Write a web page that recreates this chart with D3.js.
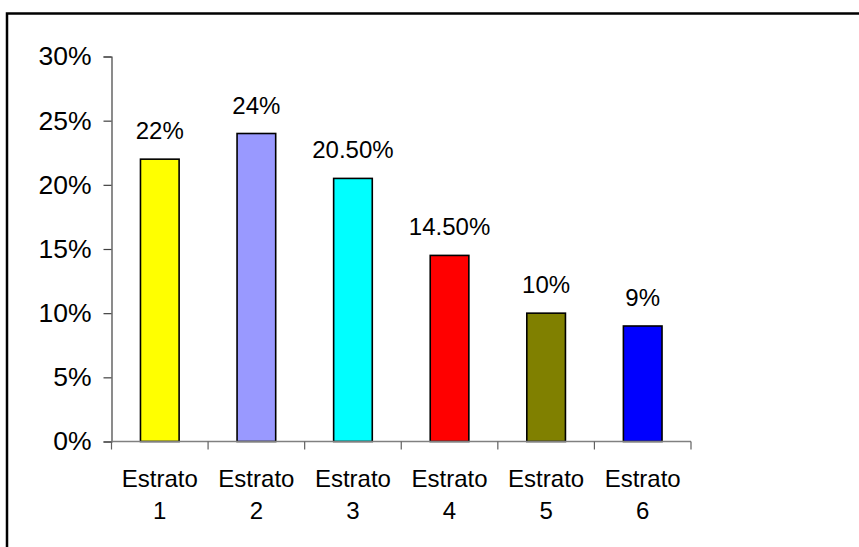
<!DOCTYPE html>
<html>
<head>
<meta charset="utf-8">
<script src="https://cdn.jsdelivr.net/npm/d3@7"></script>
<style>
  html, body { margin: 0; padding: 0; background: #fff; }
  svg { display: block; }
  text { font-family: "Liberation Sans", Arial, sans-serif; fill: #000; }
</style>
</head>
<body>
<svg id="chart" width="859" height="547"></svg>
<script>
const categories = ["Estrato 1", "Estrato 2", "Estrato 3", "Estrato 4", "Estrato 5", "Estrato 6"];
const values = [22, 24, 20.5, 14.5, 10, 9];
const valueLabels = ["22%", "24%", "20.50%", "14.50%", "10%", "9%"];
const colors = ["#FFFF00", "#9999FF", "#00FFFF", "#FF0000", "#808000", "#0000FF"];
const yTicks = [0, 5, 10, 15, 20, 25, 30];

const svg = d3.select("#chart");

// outer frame (only top and left visible in the crop)
svg.append("rect")
  .attr("x", 7).attr("y", 13.5)
  .attr("width", 900).attr("height", 600)
  .attr("fill", "none").attr("stroke", "#000").attr("stroke-width", 2.5);

const x = d3.scaleBand()
  .domain(categories)
  .range([111.5, 691])
  .paddingInner(0.6)
  .paddingOuter(0.3);

const y = d3.scaleLinear().domain([0, 30]).range([441.5, 56.5]);

const fontSize = 24;
const yFontSize = 26.5;

// y axis
const yAxis = svg.append("g").attr("transform", "translate(111.5,0)")
  .call(d3.axisLeft(y).tickValues(yTicks).tickSize(8).tickPadding(12)
    .tickFormat(d => d + "%"));
yAxis.select(".domain").attr("stroke", "#404040").attr("stroke-width", 1.2);
yAxis.selectAll(".tick line").attr("stroke", "#404040").attr("stroke-width", 1.2);
yAxis.selectAll(".tick text")
  .attr("font-size", yFontSize)
  .style("font-family", "'Liberation Sans', Arial, sans-serif")
  .attr("fill", "#000");

// bars
svg.append("g").selectAll("rect")
  .data(categories)
  .join("rect")
  .attr("x", d => x(d))
  .attr("width", x.bandwidth())
  .attr("y", (d, i) => y(values[i]))
  .attr("height", (d, i) => y(0) - y(values[i]))
  .attr("fill", (d, i) => colors[i])
  .attr("stroke", "#000")
  .attr("stroke-width", 1.6);

// x axis line and ticks at band boundaries
const x0 = x.range()[0];
const boundaries = d3.range(categories.length + 1).map(i => x0 + i * x.step());
svg.append("line")
  .attr("x1", boundaries[0]).attr("x2", boundaries[boundaries.length - 1])
  .attr("y1", y(0)).attr("y2", y(0))
  .attr("stroke", "#808080").attr("stroke-width", 1.5);
svg.append("g").selectAll("line")
  .data(boundaries)
  .join("line")
  .attr("x1", d => d).attr("x2", d => d)
  .attr("y1", y(0)).attr("y2", y(0) + 8)
  .attr("stroke", "#606060").attr("stroke-width", 1.2);

// category labels (two lines)
const catG = svg.append("g").selectAll("text")
  .data(categories)
  .join("text")
  .attr("text-anchor", "middle")
  .attr("font-size", fontSize);
catG.each(function(d) {
  const parts = d.split(" ");
  const t = d3.select(this);
  const cx = x(d) + x.bandwidth() / 2;
  t.append("tspan").attr("x", cx).attr("y", y(0) + 45).text(parts[0]);
  t.append("tspan").attr("x", cx).attr("y", y(0) + 77).text(parts[1]);
});

// data labels
svg.append("g").selectAll("text")
  .data(categories)
  .join("text")
  .attr("text-anchor", "middle")
  .attr("font-size", fontSize)
  .attr("x", d => x(d) + x.bandwidth() / 2)
  .attr("y", (d, i) => y(values[i]) - 20)
  .text((d, i) => valueLabels[i]);
</script>
</body>
</html>
